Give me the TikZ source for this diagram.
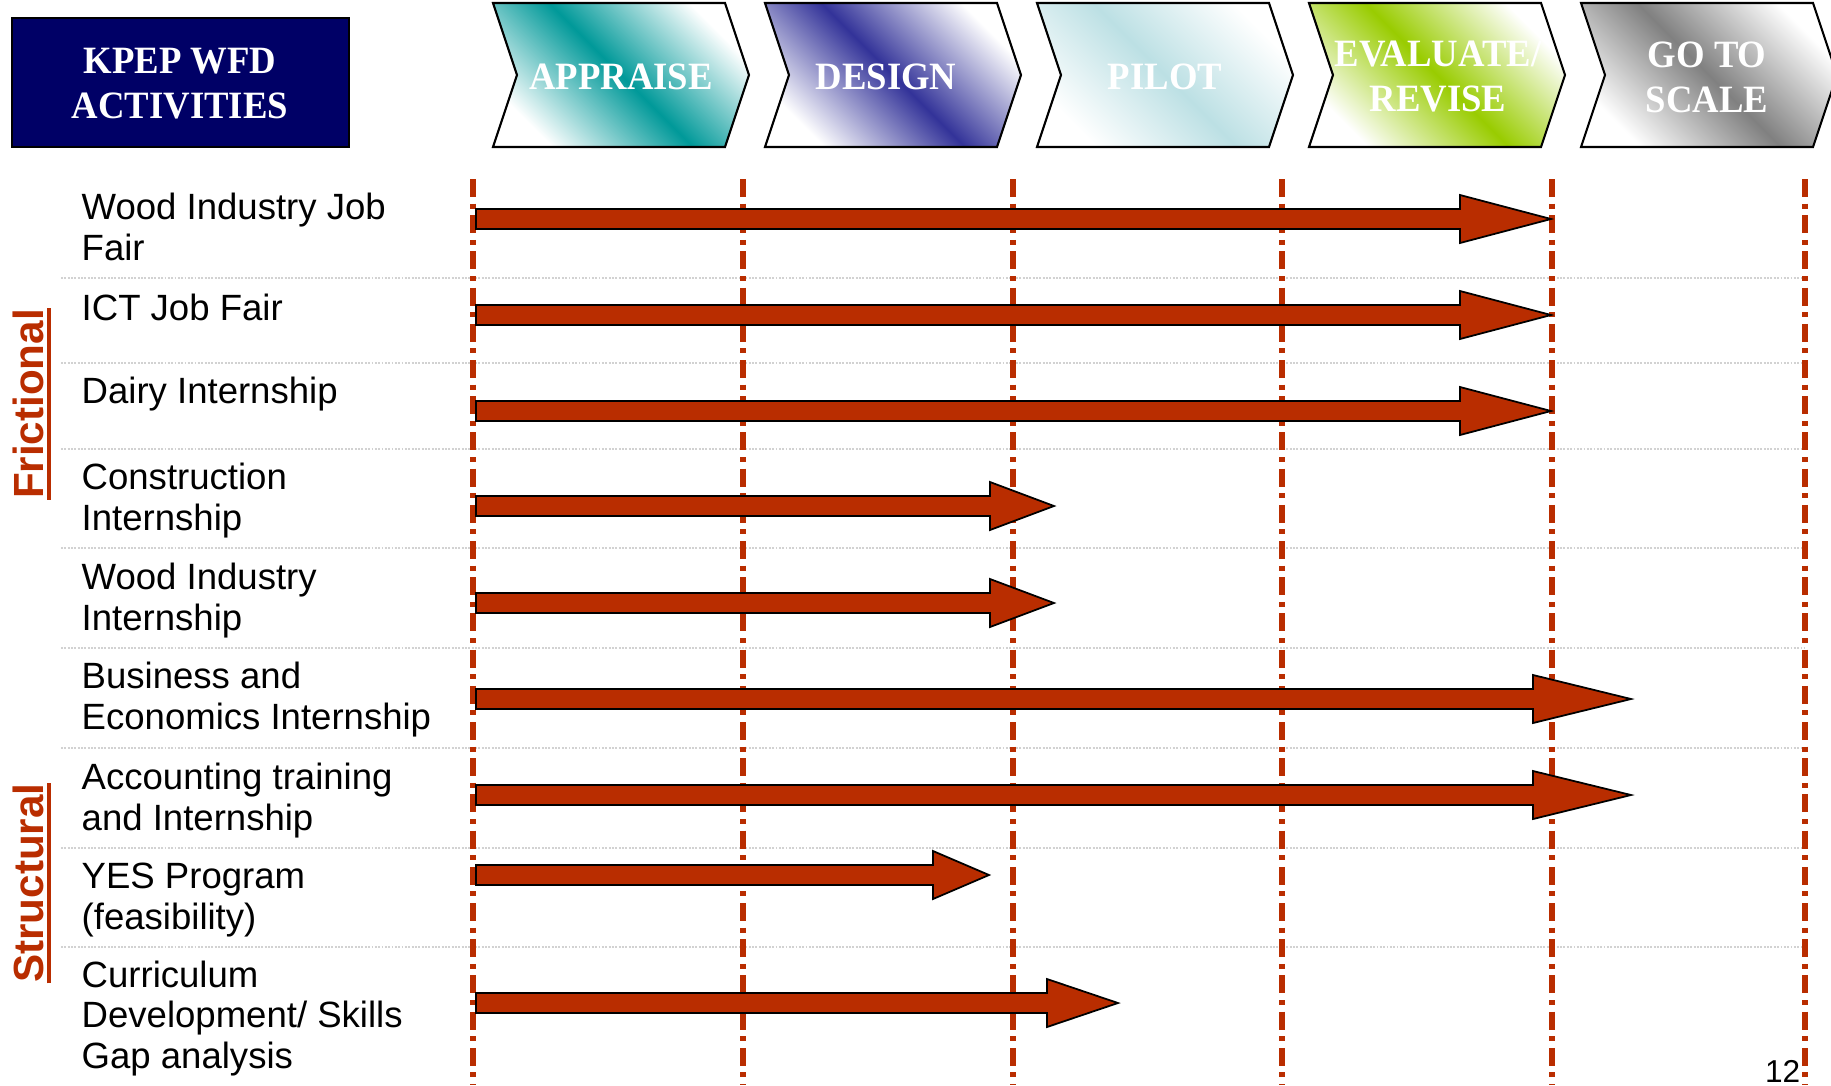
\documentclass[tikz,border=0pt]{standalone}
\usepackage{fontspec}
\setmainfont{Liberation Sans}
\newfontfamily\headfont{Liberation Serif}

\definecolor{kpepnavy}{RGB}{0,0,102}
\definecolor{barred}{RGB}{185,45,0}
\definecolor{appraisecol}{RGB}{0,153,153}
\definecolor{designcol}{RGB}{51,51,153}
\definecolor{pilotcol}{RGB}{188,224,228}
\definecolor{evalcol}{RGB}{153,204,0}
\definecolor{scalecol}{RGB}{128,128,128}

\tikzset{
  phase/.style={draw=black, line width=0.6pt, left color=white, right color=white,
    middle color=#1, shading angle=-45},
  phasetext/.style={text=white, align=center, inner sep=0pt, xscale=0.95,
    font=\headfont\fontsize{11pt}{12.8pt}\selectfont\bfseries},
  stageline/.style={draw=barred, line width=1.7pt,
    dash pattern=on 5.1pt off 1.9pt on 1.4pt off 1.9pt},
  rowline/.style={draw=gray!35, line width=0.55pt, dash pattern=on 0.55pt off 0.4pt},
  bar/.style={draw=black, fill=barred, line width=0.5pt, line join=miter},
  activity/.style={anchor=base west, align=left, inner sep=0pt,
    font=\fontsize{10.4pt}{11.4pt}\selectfont},
  group/.style={rotate=90, anchor=base, inner sep=0pt, text=barred,
    font=\fontsize{12pt}{14pt}\selectfont\bfseries},
  underl/.style={draw=barred, line width=1.2pt}
}

% bar from the first stage line: centre y, start of head, tip
\newcommand{\activitybar}[3]{%
  \draw[bar] (4.76,{#1+0.1}) -- (#2,{#1+0.1}) -- (#2,{#1+0.24}) -- (#3,#1)
    -- (#2,{#1-0.24}) -- (#2,{#1-0.1}) -- (4.76,{#1-0.1}) -- cycle;}

\begin{document}
\begin{tikzpicture}
\useasboundingbox (0,0) rectangle (18.31,-10.85);

% Header
\draw[fill=kpepnavy, line width=0.6pt] (0.12,-0.18) rectangle (3.49,-1.47);
\node[phasetext] (kpep) at (1.80,-0.84) {KPEP WFD\\ACTIVITIES};

\draw[phase=appraisecol] (4.93,-0.03) -- (7.25,-0.03) -- (7.49,-0.75) -- (7.25,-1.47) -- (4.93,-1.47) -- (5.17,-0.75) -- cycle;
\node[phasetext] (appraise) at (6.21,-0.77) {APPRAISE};

\draw[phase=designcol] (7.65,-0.03) -- (9.97,-0.03) -- (10.21,-0.75) -- (9.97,-1.47) -- (7.65,-1.47) -- (7.89,-0.75) -- cycle;
\node[phasetext] (design) at (8.86,-0.77) {DESIGN};

\draw[phase=pilotcol] (10.37,-0.03) -- (12.69,-0.03) -- (12.93,-0.75) -- (12.69,-1.47) -- (10.37,-1.47) -- (10.61,-0.75) -- cycle;
\node[phasetext] (pilot) at (11.65,-0.77) {PILOT};

\draw[phase=evalcol] (13.09,-0.03) -- (15.41,-0.03) -- (15.65,-0.75) -- (15.41,-1.47) -- (13.09,-1.47) -- (13.33,-0.75) -- cycle;
\node[phasetext] (evaluate) at (14.38,-0.77) {EVALUATE/\\REVISE};

\draw[phase=scalecol] (15.81,-0.03) -- (18.13,-0.03) -- (18.37,-0.75) -- (18.13,-1.47) -- (15.81,-1.47) -- (16.05,-0.75) -- cycle;
\node[phasetext] (scale) at (17.07,-0.77) {GO TO\\SCALE};

% Row separators
\draw[rowline] (0.61,-2.78) -- (18.05,-2.78);
\draw[rowline] (0.61,-3.63) -- (18.05,-3.63);
\draw[rowline] (0.61,-4.49) -- (18.05,-4.49);
\draw[rowline] (0.61,-5.48) -- (18.05,-5.48);
\draw[rowline] (0.61,-6.48) -- (18.05,-6.48);
\draw[rowline] (0.61,-7.48) -- (18.05,-7.48);
\draw[rowline] (0.61,-8.48) -- (18.05,-8.48);
\draw[rowline] (0.61,-9.47) -- (18.05,-9.47);

% Stage lines
\draw[stageline] (4.73,-1.79) -- (4.73,-10.85);
\draw[stageline] (7.43,-1.79) -- (7.43,-10.85);
\draw[stageline] (10.13,-1.79) -- (10.13,-10.85);
\draw[stageline] (12.82,-1.79) -- (12.82,-10.85);
\draw[stageline] (15.52,-1.79) -- (15.52,-10.85);
\draw[stageline] (18.05,-1.79) -- (18.05,-10.85);

% Activities (base = last line)
\node[activity] (woodfair) at (0.81,-2.60) {Wood Industry Job\\Fair};
\node[activity] (ictfair) at (0.81,-3.20) {ICT Job Fair};
\node[activity] (dairy) at (0.81,-4.03) {Dairy Internship};
\node[activity] (construction) at (0.81,-5.30) {Construction\\Internship};
\node[activity] (woodintern) at (0.81,-6.30) {Wood Industry\\Internship};
\node[activity] (business) at (0.81,-7.29) {Business and\\Economics Internship};
\node[activity] (accounting) at (0.81,-8.30) {Accounting training\\and Internship};
\node[activity] (yes) at (0.81,-9.29) {YES Program\\(feasibility)};
\node[activity] (curriculum) at (0.81,-10.68) {Curriculum\\Development/ Skills\\Gap analysis};

\activitybar{-2.19}{14.60}{15.51}
\activitybar{-3.15}{14.60}{15.51}
\activitybar{-4.11}{14.60}{15.51}
\activitybar{-5.06}{9.90}{10.54}
\activitybar{-6.03}{9.90}{10.54}
\activitybar{-6.99}{15.33}{16.31}
\activitybar{-7.95}{15.33}{16.31}
\activitybar{-8.75}{9.33}{9.89}
\activitybar{-10.03}{10.47}{11.18}

% Groups
\node[group] (fric) at (0.43,-4.04) {Frictional};
\draw[underl] ([xshift=1.4pt]fric.south west) -- ([xshift=1.4pt]fric.south east);
\node[group] (struct) at (0.43,-8.83) {Structural};
\draw[underl] ([xshift=1.4pt]struct.south west) -- ([xshift=1.4pt]struct.south east);

\node[anchor=base east, inner sep=0pt, font=\fontsize{9pt}{10pt}\selectfont] (pagenum) at (18.01,-10.82) {12};

\end{tikzpicture}
\end{document}
